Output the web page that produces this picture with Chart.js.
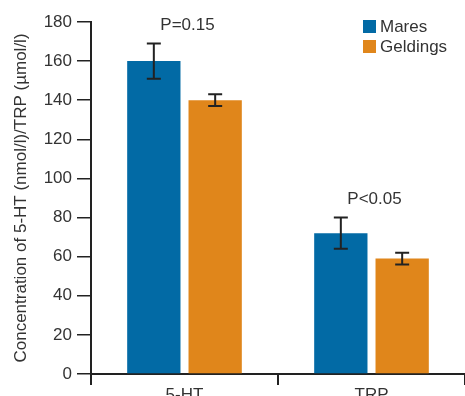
<!DOCTYPE html>
<html>
<head>
<meta charset="utf-8">
<script src="https://cdn.jsdelivr.net/npm/chart.js@4"></script>
<style>
    html, body { margin: 0; padding: 0; background: #ffffff; }
    #wrap { width: 465px; height: 396px; }
</style>
</head>
<body>
<div id="wrap"><canvas id="barChart" width="465" height="396"></canvas></div>
<script>
// Chart data
const categories = ['5-HT', 'TRP'];
const seriesNames = ['Mares', 'Geldings'];
const maresValues = [160, 72];
const geldingsValues = [140, 59];
const maresErrors = [9, 8];
const geldingsErrors = [3, 3];
const pLabels = ['P=0.15', 'P<0.05'];
const yTicks = [0, 20, 40, 60, 80, 100, 120, 140, 160, 180];

const COLORS = ['#026aa5', '#e0861b'];
const INK = '#222222';
const FONT = 'Liberation Sans, Arial, sans-serif';

// Error bars + P value labels
const errorBarPlugin = {
    id: 'errorBars',
    afterDatasetsDraw(chart) {
        const ctx = chart.ctx;
        const y = chart.scales.y;
        const errors = [maresErrors, geldingsErrors];
        const groupTop = [];

        ctx.save();
        ctx.strokeStyle = INK;
        ctx.lineWidth = 2;
        chart.data.datasets.forEach((ds, i) => {
            const meta = chart.getDatasetMeta(i);
            meta.data.forEach((bar, j) => {
                const v = ds.data[j];
                const e = errors[i][j];
                const yt = y.getPixelForValue(v + e);
                const yb = y.getPixelForValue(v - e);
                const x = bar.x;
                ctx.beginPath();
                ctx.moveTo(x, yt); ctx.lineTo(x, yb);
                ctx.moveTo(x - 7, yt); ctx.lineTo(x + 7, yt);
                ctx.moveTo(x - 7, yb); ctx.lineTo(x + 7, yb);
                ctx.stroke();
                groupTop[j] = Math.min(groupTop[j] ?? Infinity, yt);
            });
        });

        ctx.fillStyle = '#333333';
        ctx.font = '17px ' + FONT;
        ctx.textAlign = 'center';
        ctx.textBaseline = 'middle';
        pLabels.forEach((txt, j) => {
            const x = chart.scales.x.getPixelForValue(j);
            ctx.fillText(txt, x + 3, groupTop[j] - 18);
        });
        ctx.restore();
    }
};

// Legend inside the top right corner
const cornerLegend = {
    id: 'cornerLegend',
    afterDraw(chart) {
        const ctx = chart.ctx;
        const x0 = 363;
        ctx.save();
        ctx.font = '17px ' + FONT;
        ctx.textBaseline = 'middle';
        ctx.textAlign = 'left';
        seriesNames.forEach((name, i) => {
            const yc = 27 + i * 20;
            ctx.fillStyle = COLORS[i];
            ctx.fillRect(x0, yc - 7, 13, 13);
            ctx.fillStyle = '#333333';
            ctx.fillText(name, x0 + 17, yc);
        });
        ctx.restore();
    }
};

const chart = new Chart(document.getElementById('barChart'), {
    type: 'bar',
    data: {
        labels: categories,
        datasets: [
            {
                label: seriesNames[0],
                data: maresValues,
                backgroundColor: COLORS[0],
                categoryPercentage: 0.656,
                barPercentage: 0.869
            },
            {
                label: seriesNames[1],
                data: geldingsValues,
                backgroundColor: COLORS[1],
                categoryPercentage: 0.656,
                barPercentage: 0.869
            }
        ]
    },
    options: {
        responsive: false,
        animation: false,
        layout: {
            padding: { top: 22, right: -2, left: 0, bottom: 0 }
        },
        plugins: {
            legend: { display: false },
            tooltip: { enabled: false }
        },
        scales: {
            x: {
                grid: {
                    drawOnChartArea: false,
                    tickLength: 11,
                    color: INK,
                    lineWidth: 2
                },
                border: { color: INK, width: 2 },
                ticks: {
                    color: '#333333',
                    padding: 0,
                    font: { size: 17, family: FONT }
                },
                afterFit(scale) { scale.height = 22; }
            },
            y: {
                min: 0,
                max: 180,
                afterBuildTicks(scale) {
                    scale.ticks = yTicks.map(v => ({ value: v }));
                },
                grid: {
                    drawOnChartArea: false,
                    tickLength: 14,
                    color: INK,
                    lineWidth: 1.5
                },
                border: { color: INK, width: 2 },
                ticks: {
                    color: '#333333',
                    padding: 5,
                    font: { size: 17, family: FONT }
                },
                title: {
                    display: true,
                    text: 'Concentration of 5-HT (nmol/l)/TRP (\u00b5mol/l)',
                    color: '#333333',
                    font: { size: 17, family: FONT },
                    padding: { top: 11, bottom: 0 }
                },
                afterFit(scale) { scale.width = 91; }
            }
        }
    },
    plugins: [errorBarPlugin, cornerLegend]
});
</script>
</body>
</html>
